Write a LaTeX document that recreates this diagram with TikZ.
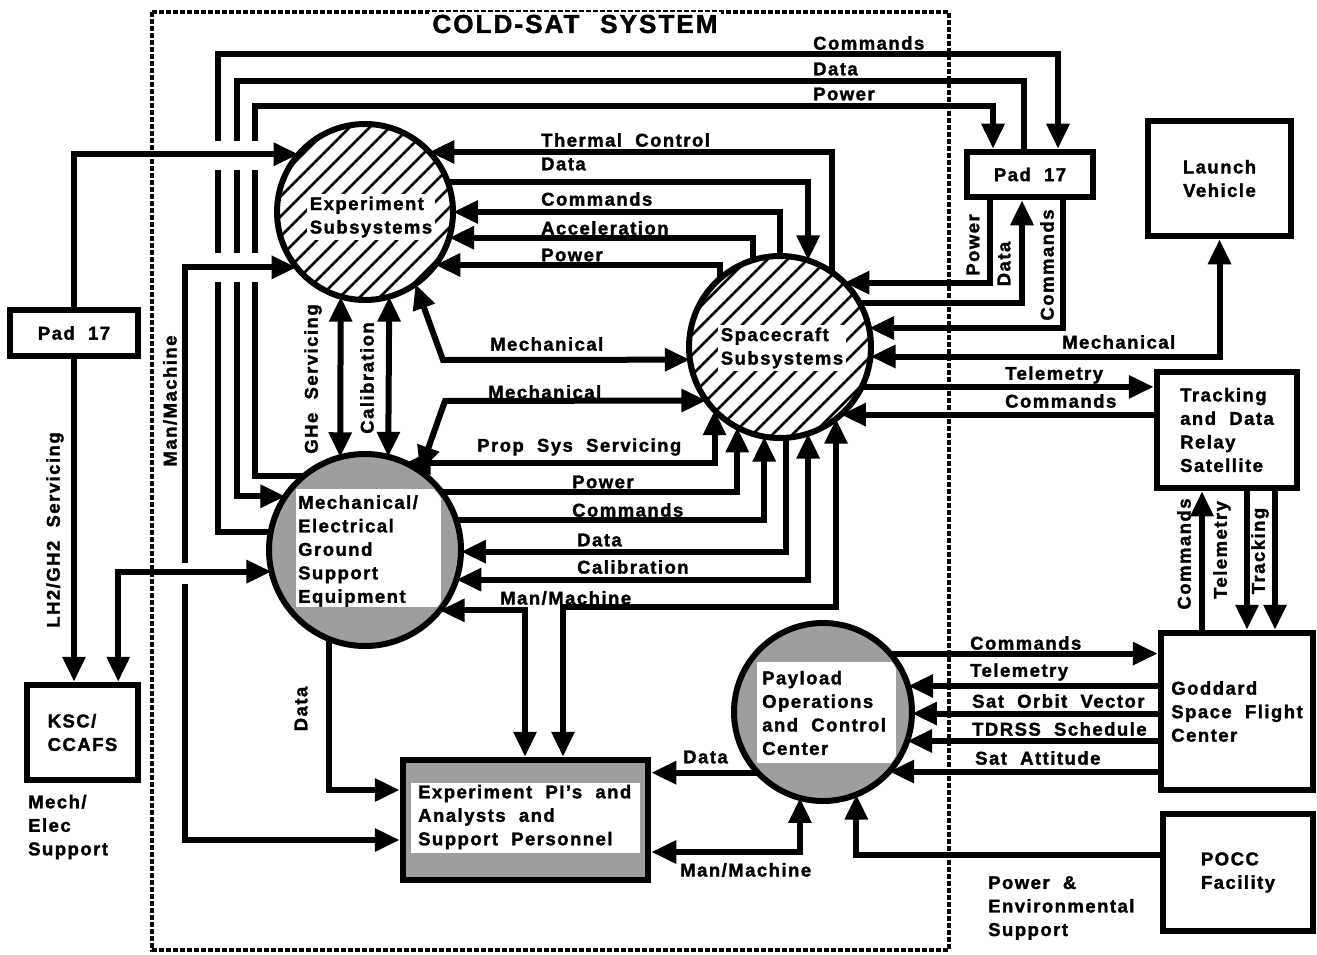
\documentclass[tikz,border=0pt]{standalone}
\usepackage{fontspec}
\setmainfont{Liberation Sans}[BoldFont={Liberation Sans Bold},BoldFeatures={FakeBold=1.6},LetterSpace=8,WordSpace=2]
\usetikzlibrary{arrows.meta}
\newcommand{\lblf}{\fontsize{18.5}{23.5}\selectfont\bfseries}
\newcommand{\ttlf}{\fontsize{26}{30}\selectfont\bfseries}
\tikzset{
  ln/.style={line width=6pt},
  arr/.style={ln,-{Triangle[length=25pt,width=22pt]}},
  dbl/.style={ln,{Triangle[length=25pt,width=22pt]}-{Triangle[length=25pt,width=22pt]}},
  lbl/.style={font=\lblf, inner sep=0pt, anchor=west},
  vlbl/.style={font=\lblf, inner sep=0pt, rotate=90},
  txt/.style={font=\lblf, inner sep=0pt, align=left},
  box/.style={draw, line width=6.5pt, inner sep=0pt, font=\lblf, align=center},
  circ/.style={circle, draw, line width=6pt, inner sep=0pt, outer sep=0pt},
  bound/.style={line width=4.5pt, dash pattern=on 5pt off 2pt},
  hatch/.style={line width=2.8pt},
}
\begin{document}
\begin{tikzpicture}[x=1pt,y=-1pt]
\useasboundingbox (0,0) rectangle (1317,955);
\fill[white] (0,0) rectangle (1317,955);
% system boundary
\draw[bound] (152,12) rectangle (949,950);
\node[font=\ttlf, fill=white, inner sep=3pt] (title) at (575,24) {COLD-SAT\hspace{0.8em}SYSTEM};

% Experiment Subsystems (hatched)
\begin{scope}
\clip (365,212) circle[radius=88];
\foreach \k in {-11,...,11} \draw[hatch] ({365+\k*20-130},{212+130}) -- ({365+\k*20+130},{212-130});
\end{scope}
\node[circ, minimum size=176pt] (es) at (365,212) {};
\node[txt, fill=white, inner sep=3pt] (esT) at (371,217) {Experiment\\Subsystems};

% Spacecraft Subsystems (hatched)
\begin{scope}
\clip (780,347) circle[radius=91];
\foreach \k in {-11,...,11} \draw[hatch] ({780+\k*20-130},{347+130}) -- ({780+\k*20+130},{347-130});
\end{scope}
\node[circ, minimum size=182pt] (sc) at (780,347) {};
\node[txt, fill=white, inner sep=3pt] (scT) at (782,348) {Spacecraft\\Subsystems};

% MGSE (shaded)
\node[circ, fill=black!38, minimum size=192pt] (mg) at (365,550) {};
\begin{scope}\clip (365,550) circle[radius=92]; \fill[white] (296,489) rectangle (441,607);\end{scope}
\node[txt, anchor=west] (mgT) at (298,551) {Mechanical/\\Electrical\\Ground\\Support\\Equipment};

% POCC (shaded)
\node[circ, fill=black!38, minimum size=178pt] (pc) at (823,712) {};
\begin{scope}\clip (823,712) circle[radius=85]; \fill[white] (757,662) rectangle (896,763);\end{scope}
\node[txt, anchor=west] (pcT) at (762,713) {Payload\\Operations\\and Control\\Center};

% Experiment PI's box
\node[draw, line width=6.5pt, fill=black!38, minimum width=245pt, minimum height=120pt, inner sep=0pt] (pi) at (525.5,820) {};
\fill[white] (411,783) rectangle (640,853);
\node[txt, anchor=west] (piT) at (418,817) {Experiment PI's and\\Analysts and\\Support Personnel};

% boxes
\node[box, minimum width=128pt, minimum height=46pt] (padL) at (74,333) {Pad 17};
\node[box, minimum width=126pt, minimum height=45pt] (padR) at (1030,174.5) {Pad 17};
\node[box, minimum width=111pt, minimum height=95pt, align=left] (ksc) at (82.5,732.5) {KSC/\\CCAFS};
\node[box, minimum width=143pt, minimum height=115pt] (lv) at (1219.5,178.5) {Launch\\Vehicle};
\node[box, minimum width=140pt, minimum height=116pt, align=left] (td) at (1227,430) {Tracking\\and Data\\Relay\\Satellite};
\node[box, minimum width=152pt, minimum height=157pt, align=left] (gd) at (1237,711.5) {Goddard\\Space Flight\\Center};
\node[box, minimum width=150pt, minimum height=117pt, align=left] (pf) at (1238,872.5) {POCC\\Facility};

% MGSE <-> Pad 17 (top lines)
\draw[arr] (mg.169.8) -| (218,54) -| ([xshift=28pt]padR.north);
\draw[arr] ([xshift=-6pt]padR.north) |- (237,81) |- (mg.146.5);
\draw[arr] (mg.130.5) -| (255,106) -| ([xshift=-37pt]padR.north);
% crossing gaps
\fill[white] (208,141) rectangle (265,170);
\fill[white] (208,253) rectangle (265,282);
% Pad 17 (left)
\draw[arr] (padL.north) |- (es.139.6);
\draw[arr] (padL.south) -- (padL.south |- ksc.north);
% Man/Machine ES <-> PI
\draw[dbl] (es.219.5) -| (185,840) -- (pi.west |- 0,840);
\fill[white] (178,563) rectangle (192,584);
\draw[dbl] (mg.193.9) -| ([xshift=-23pt]ksc.north east);

% ES <-> MGSE
\draw[dbl] (es.-106.5) -- (mg.105.1);
\draw[dbl] (es.-74.8) -- (mg.76.1);

% Mechanical
\draw[dbl] (es.-55) -- (443,360) -- (sc.188.2);
\draw[dbl] (mg.55) -- (445,401) -- (sc.216.4);

% SC <-> MGSE
\draw[dbl] (sc.-136.5) |- (mg.65);
\draw[arr] (mg.37.2) -| (sc.-118.2);
\draw[arr] (mg.18.2) -| (sc.-100.8);
\draw[arr] (sc.-86.9) |- (mg.-1.2);
\draw[dbl] (sc.-72.7) |- (mg.-18.2);
\draw[dbl] (sc.-52.8) |- (563,607) -- (pi.north -| 563,0);
\draw[dbl] (mg.-39.4) -| (pi.north -| 525,0);
\draw[arr] (mg.-112.7) |- (pi.west |- 0,790);

% ES <-> SC
\draw[arr] (sc.55.2) |- (es.43.9);
\draw[arr] (es.20.6) -| (sc.72.1);
\draw[arr] (sc.90) |- (es.0.65);
\draw[arr] (sc.107.3) |- (es.-17.9);
\draw[arr] (sc.131.2) |- (es.-37);

% SC right side
\draw[arr] ([xshift=-40pt]padR.south) |- (sc.45.6);
\draw[arr] (sc.29.6) -| ([xshift=-8pt]padR.south);
\draw[arr] ([xshift=33pt]padR.south) |- (sc.12.1);
\draw[dbl] (sc.-6.9) -| (lv.south);
\draw[arr] (sc.-26.1) -- (td.west |- sc.-26.1);
\draw[arr] (td.west |- sc.-48.4) -- (sc.-48.4);

% TDRS <-> Goddard
\draw[arr] (gd.north -| 1202,0) -- (td.south -| 1202,0);
\draw[arr] (td.south -| 1247,0) -- (gd.north -| 1247,0);
\draw[arr] (td.south -| 1275,0) -- (gd.north -| 1275,0);

% POCC
\draw[arr] (pc.41.5) -- (gd.west |- pc.41.5);
\draw[arr] (gd.west |- pc.17.7) -- (pc.17.7);
\draw[arr] (gd.west |- pc.-1.9) -- (pc.-1.9);
\draw[arr] (gd.west |- pc.-19.7) -- (pc.-19.7);
\draw[arr] (gd.west |- pc.-42.4) -- (pc.-42.4);
\draw[arr] (pc.223.3) -- (pi.east |- pc.223.3);
\draw[dbl] (pc.-105) |- (pi.east |- 0,852);
\draw[arr] (pf.west |- 0,855) -| (pc.-68.9);

% labels
\node[lbl] (t1) at (813,43) {Commands};
\node[lbl] (t2) at (813,69) {Data};
\node[lbl] (t3) at (813,94) {Power};
\node[lbl] (t4) at (541,140) {Thermal Control};
\node[lbl] (t5) at (541,164) {Data};
\node[lbl] (t6) at (541,199) {Commands};
\node[lbl] (t7) at (541,228) {Acceleration};
\node[lbl] (t8) at (541,255) {Power};
\node[vlbl] (t9) at (973,245) {Power};
\node[vlbl] (t10) at (1004,264) {Data};
\node[vlbl] (t11) at (1047,265) {Commands};
\node[lbl] (t12) at (1062,342) {Mechanical};
\node[lbl] (t13) at (1005,375) {Telemetry};
\node[lbl] (t14) at (1005,401) {Commands};
\node[lbl] (t15) at (490,344) {Mechanical};
\node[lbl] (t16) at (488,392) {Mechanical};
\node[lbl] (t17) at (477,447) {Prop Sys Servicing};
\node[lbl] (t18) at (572,482) {Power};
\node[lbl] (t19) at (572,510) {Commands};
\node[lbl] (t20) at (577,540) {Data};
\node[lbl] (t21) at (577,567) {Calibration};
\node[lbl] (t22) at (500,598) {Man/Machine};
\node[vlbl] (t23) at (170,401) {Man/Machine};
\node[vlbl] (t24) at (313,379) {GHe Servicing};
\node[vlbl] (t25) at (367,378) {Calibration};
\node[vlbl] (t26) at (55,530) {LH2/GH2 Servicing};
\node[vlbl] (t27) at (301,709) {Data};
\node[lbl] (t28) at (683,757) {Data};
\node[lbl] (t29) at (680,870) {Man/Machine};
\node[lbl] (t30) at (970,643) {Commands};
\node[lbl] (t31) at (970,672) {Telemetry};
\node[lbl] (t32) at (972,701) {Sat Orbit Vector};
\node[lbl] (t33) at (972,729) {TDRSS Schedule};
\node[lbl] (t34) at (975,758) {Sat Attitude};
\node[vlbl] (t35) at (1184,554) {Commands};
\node[vlbl] (t36) at (1222,550) {Telemetry};
\node[vlbl] (t37) at (1260,551) {Tracking};
\node[txt, anchor=west] (t38) at (28,827) {Mech/\\Elec\\Support};
\node[txt, anchor=west] (t39) at (988,908) {Power \&\\Environmental\\Support};
\end{tikzpicture}
\end{document}
